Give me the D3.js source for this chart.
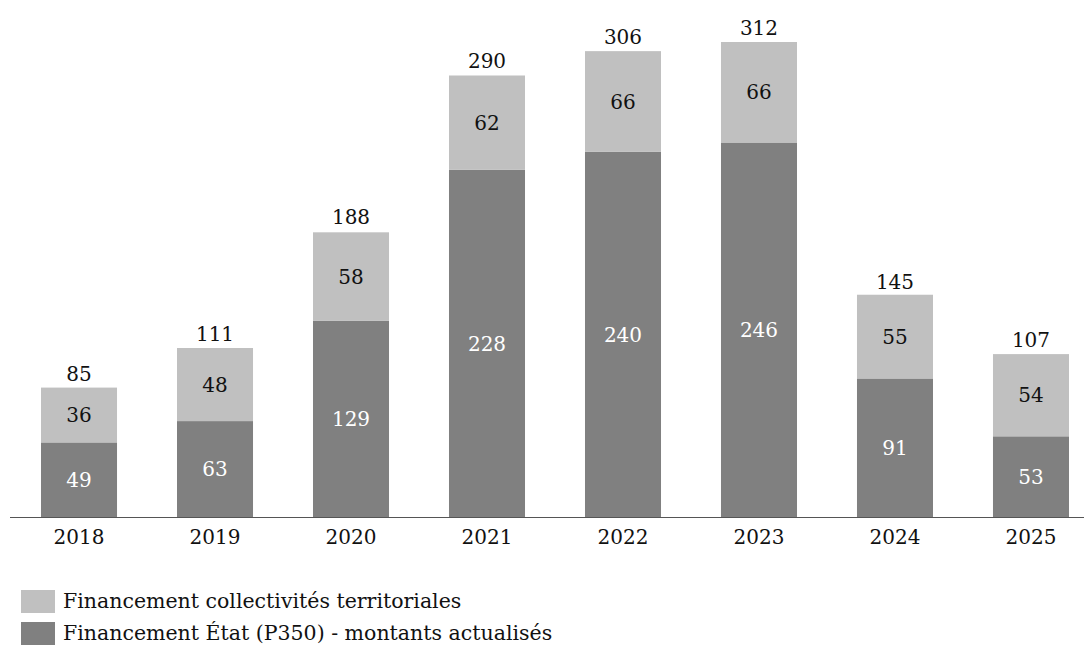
<!DOCTYPE html>
<html>
<head>
<meta charset="utf-8">
<script src="https://cdn.jsdelivr.net/npm/d3@7"></script>
<style>
  html, body { margin: 0; padding: 0; background: #fff; }
  svg text { font-family: "DejaVu Serif", "Liberation Serif", serif; }
</style>
</head>
<body>
<svg id="chart" width="1084" height="645"></svg>
<script>
// Annual funding, stacked: State (P350) at the bottom, local authorities on top
const years = ["2018", "2019", "2020", "2021", "2022", "2023", "2024", "2025"];
const etat = [49, 63, 129, 228, 240, 246, 91, 53];
const collectivites = [36, 48, 58, 62, 66, 66, 55, 54];
const totals = [85, 111, 188, 290, 306, 312, 145, 107];
const seriesNames = [
  "Financement collectivités territoriales",
  "Financement État (P350) - montants actualisés"
];

const colLight = "#c0c0c0";
const colDark = "#808080";

const svg = d3.select("#chart");
const baseY = 517;

const x = d3.scaleBand()
  .domain(years)
  .range([11, 1099])
  .paddingInner(0.441)
  .paddingOuter(0.2206);

const y = d3.scaleLinear()
  .domain([0, 312])
  .range([baseY, 42]);

const rows = years.map((yr, i) => ({
  year: yr, etat: etat[i], coll: collectivites[i], total: totals[i]
}));

const g = svg.append("g");

// State share
g.selectAll("rect.etat").data(rows).join("rect")
  .attr("class", "etat")
  .attr("x", d => x(d.year))
  .attr("width", x.bandwidth())
  .attr("y", d => y(d.etat))
  .attr("height", d => y(0) - y(d.etat))
  .attr("fill", colDark);

// Local authorities share
g.selectAll("rect.coll").data(rows).join("rect")
  .attr("class", "coll")
  .attr("x", d => x(d.year))
  .attr("width", x.bandwidth())
  .attr("y", d => y(d.etat + d.coll))
  .attr("height", d => y(d.etat) - y(d.etat + d.coll))
  .attr("fill", colLight);

const fs = 20;

// Segment labels
g.selectAll("text.etat").data(rows).join("text")
  .attr("x", d => x(d.year) + x.bandwidth() / 2)
  .attr("y", d => (y(0) + y(d.etat)) / 2)
  .attr("dy", "0.36em")
  .attr("text-anchor", "middle")
  .attr("font-size", fs)
  .attr("fill", "#ffffff")
  .text(d => d.etat);

g.selectAll("text.coll").data(rows).join("text")
  .attr("x", d => x(d.year) + x.bandwidth() / 2)
  .attr("y", d => (y(d.etat) + y(d.etat + d.coll)) / 2)
  .attr("dy", "0.36em")
  .attr("text-anchor", "middle")
  .attr("font-size", fs)
  .attr("fill", "#111")
  .text(d => d.coll);

// Totals above each bar
g.selectAll("text.total").data(rows).join("text")
  .attr("x", d => x(d.year) + x.bandwidth() / 2)
  .attr("y", d => y(d.total) - 7)
  .attr("text-anchor", "middle")
  .attr("font-size", fs)
  .attr("fill", "#111")
  .text(d => d.total);

// Category axis
const axis = svg.append("g")
  .attr("transform", `translate(0,${baseY})`)
  .call(d3.axisBottom(x).tickSize(0).tickPadding(13));
axis.select(".domain").remove();
axis.selectAll("text")
  .attr("font-size", fs)
  .attr("fill", "#111")
  .style("font-family", '"DejaVu Serif", serif');

svg.append("line")
  .attr("x1", 10).attr("x2", 1084)
  .attr("y1", baseY + 0.5).attr("y2", baseY + 0.5)
  .attr("stroke", "#555").attr("stroke-width", 1.2);

// Legend
const legend = svg.append("g");
const legendColors = [colLight, colDark];
seriesNames.forEach((name, i) => {
  legend.append("rect")
    .attr("x", 21).attr("y", 590 + i * 32)
    .attr("width", 34).attr("height", 23)
    .attr("fill", legendColors[i]);
  legend.append("text")
    .attr("x", 63).attr("y", 608 + i * 32)
    .attr("font-size", 20.5)
    .attr("fill", "#111")
    .text(name);
});
</script>
</body>
</html>
